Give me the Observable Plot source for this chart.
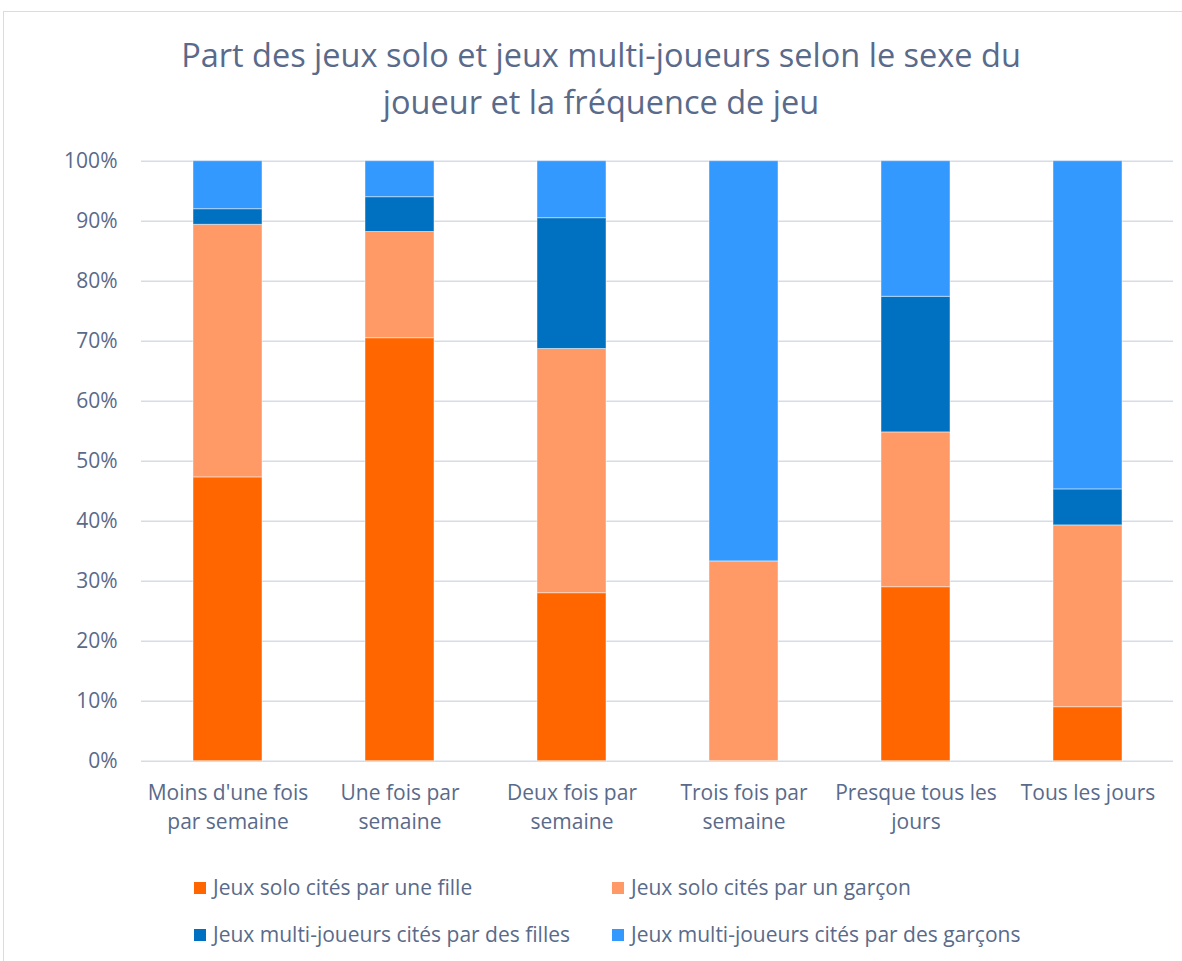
<!DOCTYPE html>
<html><head><meta charset="utf-8">
<script src="https://cdn.jsdelivr.net/npm/d3@7"></script>
<script src="https://cdn.jsdelivr.net/npm/@observablehq/plot@0.6"></script>
<style>
body{margin:0;background:#fff;font-family:"Open Sans",sans-serif;}
#wrap{position:relative;width:1182px;height:961px;overflow:hidden;background:#fff;}
#frame{position:absolute;left:3px;top:11px;width:1300px;height:1100px;border-left:1px solid #D9DCE3;border-top:1px solid #D9DCE3;}
#title{position:absolute;left:10px;top:31px;width:1182px;text-align:center;font-size:32.5px;color:#596A8A;line-height:47px;}
#chart{position:absolute;left:0;top:140px;}
.sw{position:absolute;width:12px;height:12px;}
.lt{position:absolute;font-size:21px;line-height:24px;color:#596A8A;white-space:nowrap;}
</style></head>
<body>
<div id="wrap">
  <div id="frame"></div>
  <div id="title">Part des jeux solo et jeux multi-joueurs selon le sexe du<br>joueur et la fréquence de jeu</div>
  <div id="chart"></div>
  <div id="legend"></div>
</div>
<script>
const categories = ["Moins d'une fois par semaine","Une fois par semaine","Deux fois par semaine","Trois fois par semaine","Presque tous les jours","Tous les jours"];
const tickLabels = ["Moins d'une fois\npar semaine","Une fois par\nsemaine","Deux fois par\nsemaine","Trois fois par\nsemaine","Presque tous les\njours","Tous les jours"];
const series = ["Jeux solo cités par une fille","Jeux solo cités par un garçon","Jeux multi-joueurs cités par des filles","Jeux multi-joueurs cités par des garçons"];
const soloFille    = [47.3, 70.5, 28.0,  0.0, 29.0,  9.0];
const soloGarcon   = [42.1, 17.7, 40.7, 33.3, 25.8, 30.3];
const multiFilles  = [ 2.6,  5.8, 21.8,  0.0, 22.6,  6.0];
const multiGarcons = [ 8.0,  6.0,  9.5, 66.7, 22.6, 54.7];
const colors = ["#FF6600","#FF9966","#0070C0","#3399FF"];
const yTicks = [0,10,20,30,40,50,60,70,80,90,100];

const seriesValues = [soloFille, soloGarcon, multiFilles, multiGarcons];
const data = [];
categories.forEach((c, i) => {
  series.forEach((s, j) => data.push({cat: c, series: s, value: seriesValues[j][i]}));
});

const textColor = "#596A8A";
const plot = Plot.plot({
  width: 1182,
  height: 700,
  marginTop: 20.7,
  marginBottom: 79.3,
  marginLeft: 141,
  marginRight: 9,
  style: {fontFamily: "'Open Sans', sans-serif", fontSize: "21px", color: textColor, background: "transparent", overflow: "visible"},
  x: {domain: categories, paddingInner: 0.6, paddingOuter: 0.3, label: null},
  y: {domain: [0, 100], label: null},
  color: {domain: series, range: colors},
  marks: [
    Plot.gridY(yTicks, {stroke: "#D6DBE5", strokeOpacity: 1, strokeWidth: 1.4}),
    Plot.barY(data, {x: "cat", y: "value", fill: "series", stroke: "white", strokeOpacity: 0.45, strokeWidth: 1}),
    Plot.axisY(yTicks, {tickSize: 0, tickPadding: 24, tickFormat: d => d + "%", fontSize: 21}),
    Plot.axisX({tickSize: 0, tickPadding: 18, fontSize: 21, lineHeight: 1.4,
      tickFormat: d => tickLabels[categories.indexOf(d)]})
  ]
});
document.getElementById("chart").appendChild(plot);

const legend = document.getElementById("legend");
const pos = [[194, 882], [612, 882], [194, 929], [612, 929]];
series.forEach((s, i) => {
  const sw = document.createElement("div");
  sw.className = "sw";
  sw.style.left = pos[i][0] + "px";
  sw.style.top = pos[i][1] + "px";
  sw.style.background = colors[i];
  legend.appendChild(sw);
  const t = document.createElement("div");
  t.className = "lt";
  t.style.left = (pos[i][0] + 19) + "px";
  t.style.top = (pos[i][1] - 7) + "px";
  t.textContent = s;
  legend.appendChild(t);
});
</script>
</body></html>
